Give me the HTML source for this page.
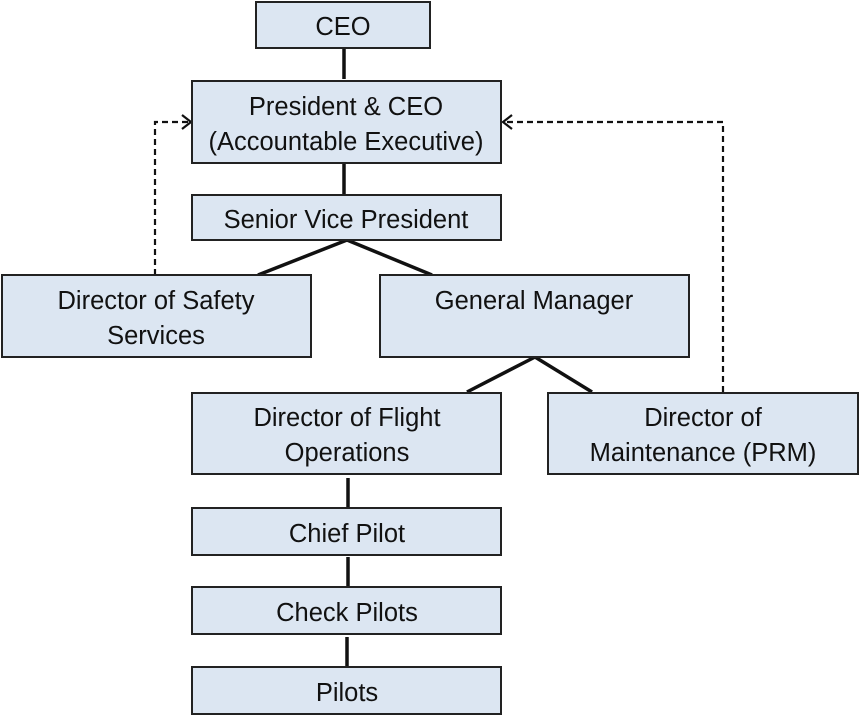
<!DOCTYPE html>
<html><head><meta charset="utf-8"><style>
html,body{margin:0;padding:0;background:#fff;}
svg{display:block;}
text{font-family:"Liberation Sans",sans-serif;font-size:25.5px;fill:#111;text-anchor:middle;}
</style></head><body>
<svg width="864" height="717" viewBox="0 0 864 717" xmlns="http://www.w3.org/2000/svg">
<g stroke="#111" stroke-width="3.5" fill="none">
<line x1="344" y1="48" x2="344" y2="79"/>
<line x1="344" y1="163" x2="344" y2="194"/>
<line x1="347" y1="240" x2="258" y2="275"/>
<line x1="347" y1="240" x2="432" y2="275"/>
<line x1="535" y1="357" x2="467" y2="392"/>
<line x1="535" y1="357" x2="592" y2="392"/>
<line x1="348" y1="478" x2="348" y2="507"/>
<line x1="348" y1="557" x2="348" y2="586"/>
<line x1="347" y1="637" x2="347" y2="666"/>
</g>
<g stroke="#111" stroke-width="2.2" fill="none" stroke-dasharray="6,4">
<polyline points="155,275 155,122 190,122"/>
<polyline points="723,392 723,122 503,122"/>
</g>
<g stroke="#111" stroke-width="2.2" fill="none">
<polyline points="182,115 191,122 182,129"/>
<polyline points="512,115 503,122 512,129"/>
</g>
<g fill="#dce6f2" stroke="#222" stroke-width="2">
<rect x="256" y="2" width="174" height="46"/>
<rect x="192" y="81" width="309" height="82"/>
<rect x="192" y="195" width="309" height="45"/>
<rect x="2" y="275" width="309" height="82"/>
<rect x="380" y="275" width="309" height="82"/>
<rect x="192" y="393" width="309" height="81"/>
<rect x="548" y="393" width="310" height="81"/>
<rect x="192" y="508" width="309" height="47"/>
<rect x="192" y="587" width="309" height="47"/>
<rect x="192" y="667" width="309" height="47"/>
</g>
<text x="343" y="35">CEO</text>
<text x="346" y="115">President &amp; CEO</text>
<text x="346" y="150">(Accountable Executive)</text>
<text x="346" y="228">Senior Vice President</text>
<text x="156" y="309">Director of Safety</text>
<text x="156" y="344">Services</text>
<text x="534" y="309">General Manager</text>
<text x="347" y="426">Director of Flight</text>
<text x="347" y="461">Operations</text>
<text x="703" y="426">Director of</text>
<text x="703" y="461">Maintenance (PRM)</text>
<text x="347" y="542">Chief Pilot</text>
<text x="347" y="621">Check Pilots</text>
<text x="347" y="701">Pilots</text>
</svg>
</body></html>
